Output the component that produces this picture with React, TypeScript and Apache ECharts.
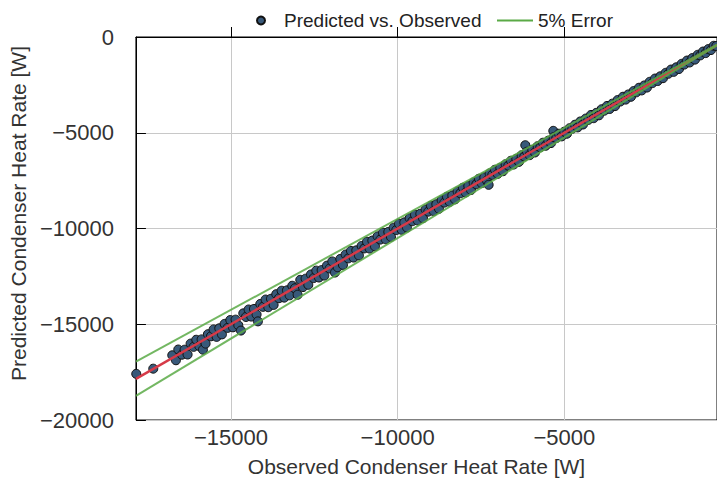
import React, { useEffect, useRef } from "react";
import * as echarts from "echarts";

const observed: number[] = [
  -17840, -17330,
  -16760, -16650, -16580, -16470, -16390, -16300, -16210, -16120, -16040, -15950,
  -15880, -15840, -15760, -15690, -15600, -15520, -15430, -15350, -15270, -15190,
  -15100, -15020, -14940, -14860, -14780, -14700, -14630, -14550, -14470, -14390,
  -14310, -14230, -14190, -14120, -14040, -13960, -13880, -13800, -13720, -13640,
  -13560, -13480, -13400, -13320, -13240, -13160, -13080, -13000, -12920, -12840,
  -12760, -12680, -12600, -12520, -12440, -12360, -12280, -12200, -12120, -12040,
  -11960, -11880, -11800, -11720, -11640, -11560, -11480, -11400, -11320, -11240,
  -11160, -11080, -11000, -10920, -10840, -10760, -10680, -10600, -10520, -10440,
  -10360, -10280, -10200, -10120, -10040, -9960, -9880, -9800, -9720, -9640,
  -9560, -9480, -9400, -9320, -9240, -9160, -9080, -9000, -8920, -8840,
  -8760, -8680, -8600, -8520, -8440, -8360, -8280, -8200, -8120, -8040,
  -7960, -7880, -7800, -7720, -7640, -7560, -7480, -7400, -7320, -7270,
  -7240, -7160, -7080, -7000, -6920, -6840, -6760, -6680, -6600, -6520,
  -6440, -6360, -6280, -6200, -6170, -6120, -6040, -5960, -5880, -5800,
  -5720, -5640, -5560, -5480, -5400, -5330, -5320, -5240, -5160, -5080,
  -5000, -4920, -4840, -4760, -4680, -4600, -4520, -4440, -4360, -4280,
  -4200, -4120, -4040, -3960, -3880, -3800, -3720, -3640, -3560, -3480,
  -3400, -3320, -3240, -3160, -3080, -3000, -2920, -2840, -2760, -2680,
  -2600, -2520, -2440, -2360, -2280, -2200, -2120, -2040, -1960, -1880,
  -1800, -1720, -1640, -1560, -1480, -1400, -1320, -1240, -1160, -1080,
  -1000, -920, -840, -760, -680, -600, -520, -440,
];

const predicted: number[] = [
  -17590, -17320,
  -16620, -16880, -16320, -16590, -16330, -16580, -16010, -16180, -15810, -16140,
  -15790, -16330, -16010, -15520, -15630, -15270, -15660, -15210, -15530, -14980,
  -15190, -14780, -15160, -14760, -15050, -15330, -14430, -14620, -14230, -14600,
  -14200, -14490, -14850, -13940, -14090, -13710, -14110, -13670, -13990, -13430,
  -13640, -13250, -13610, -13230, -13490, -12990, -13120, -13460, -12680, -13060,
  -12620, -12940, -12400, -12590, -12200, -12560, -12170, -12460, -11940, -12090,
  -11720, -12300, -12020, -11590, -11900, -11360, -11560, -11170, -11520, -11140,
  -11410, -10910, -11040, -10690, -11050, -10630, -10930, -10410, -10580, -10220,
  -10560, -10180, -10440, -9960, -10080, -9750, -10070, -9680, -9950, -9460,
  -9620, -9280, -9580, -9230, -9460, -9010, -9120, -8810, -9090, -8730,
  -8970, -8520, -8650, -8340, -8610, -8270, -8480, -8060, -8160, -7870,
  -8120, -7780, -7990, -7590, -7690, -7400, -7630, -7320, -7500, -7720,
  -7120, -7200, -6930, -7150, -6830, -7010, -6640, -6720, -6460, -6660,
  -6360, -6520, -6170, -6240, -5650, -5990, -6170, -5890, -6030, -5700,
  -5760, -5520, -5680, -5410, -5540, -4900, -5230, -5280, -5050, -5190,
  -4940, -5050, -4760, -4790, -4580, -4720, -4410, -4570, -4260, -4330,
  -4070, -4240, -3960, -4090, -3770, -3850, -3600, -3760, -3480, -3610,
  -3290, -3370, -3120, -3270, -3000, -3120, -2820, -2890, -2650, -2790,
  -2530, -2640, -2340, -2410, -2170, -2300, -2050, -2150, -1870, -1920,
  -1700, -1820, -1580, -1670, -1400, -1440, -1230, -1330, -1100, -1180,
  -930, -960, -760, -840, -630, -680, -460, -470,
];

const xMin = -17850;
const xMax = -420;
const yMin = -20000;
const yMax = 0;
const xTicks = [-15000, -10000, -5000];
const errorFraction = 0.05;

const FONT = "'Liberation Sans', Arial, Helvetica, sans-serif";
const minusFmt = (v: number) => String(v).replace("-", "\u2212");

export default function App() {
  const ref = useRef<HTMLDivElement>(null);
  useEffect(() => {
    if (!ref.current) return;
    const chart = echarts.init(ref.current, undefined, { renderer: "svg" });
    const points = observed.map((o, i) => [o, predicted[i]]);
    const ends = [xMin, xMax];
    const option = {
      animation: false,
      backgroundColor: "#ffffff",
      textStyle: { fontFamily: FONT },
      grid: {
        left: 135,
        right: -1,
        top: 37,
        bottom: 64,
        show: true,
        borderColor: "#000",
        borderWidth: 1,
        backgroundColor: "transparent",
      },
      legend: [
        {
          data: [{ name: "Predicted vs. Observed", icon: "circle" }],
          left: 256,
          top: 11,
          padding: 0,
          itemWidth: 36,
          itemHeight: 8,
          textStyle: { fontSize: 19, color: "#222", fontFamily: FONT },
        },
        {
          data: [{ name: "5% Error", icon: "rect" }],
          left: 497,
          top: 11,
          padding: 0,
          itemWidth: 36,
          itemHeight: 2,
          textStyle: { fontSize: 19, color: "#222", fontFamily: FONT },
        },
      ],
      xAxis: {
        type: "value",
        min: xMin,
        max: xMax,
        name: "Observed Condenser Heat Rate [W]",
        nameLocation: "middle",
        nameGap: 36,
        nameTextStyle: { fontSize: 21, color: "#333", fontFamily: FONT, padding: [0, 20, 0, 0] },
        axisLine: { show: true, lineStyle: { color: "#000", width: 1 } },
        axisTick: { show: true, inside: true, length: 10, lineStyle: { color: "#000" }, customValues: xTicks },
        axisLabel: {
          fontSize: 22,
          color: "#333",
          margin: 6,
          fontFamily: FONT,
          customValues: xTicks,
          formatter: minusFmt,
        },
        splitLine: { show: true, lineStyle: { color: "#c8c8c8", width: 1 } },
      },
      yAxis: {
        type: "value",
        min: yMin,
        max: yMax,
        interval: 5000,
        name: "Predicted Condenser Heat Rate [W]",
        nameLocation: "middle",
        nameGap: 102,
        nameTextStyle: { fontSize: 21, color: "#333", fontFamily: FONT, padding: [0, 0, 0, 30] },
        axisLine: { show: true, lineStyle: { color: "#000", width: 1 } },
        axisTick: { show: true, inside: true, length: 10, lineStyle: { color: "#000" } },
        axisLabel: { fontSize: 22, color: "#333", margin: 22, fontFamily: FONT, formatter: minusFmt },
        splitLine: { show: true, lineStyle: { color: "#c8c8c8", width: 1 } },
      },
      series: [
        {
          name: "Predicted vs. Observed",
          type: "scatter",
          data: points,
          symbolSize: 9,
          itemStyle: { color: "#38597a", borderColor: "#111", borderWidth: 1, opacity: 1 },
          z: 2,
        },
        {
          name: "Fit",
          type: "line",
          data: ends.map((v) => [v, v]),
          symbol: "none",
          lineStyle: { color: "#d63a48", width: 2.5 },
          z: 3,
        },
        {
          name: "5% Error",
          type: "line",
          data: ends.map((v) => [v, v * (1 - errorFraction)]),
          symbol: "none",
          lineStyle: { color: "#5aaa46", width: 2, opacity: 0.85 },
          itemStyle: { color: "#5aaa46" },
          z: 4,
        },
        {
          name: "5% Error",
          type: "line",
          data: ends.map((v) => [v, v * (1 + errorFraction)]),
          symbol: "none",
          lineStyle: { color: "#5aaa46", width: 2, opacity: 0.85 },
          itemStyle: { color: "#5aaa46" },
          z: 4,
        },
      ],
    };
    chart.setOption(option as any);
    return () => chart.dispose();
  }, []);
  return (
    <div
      ref={ref}
      style={{ position: "fixed", left: 0, top: 0, width: 717, height: 484, background: "#fff" }}
    />
  );
}
